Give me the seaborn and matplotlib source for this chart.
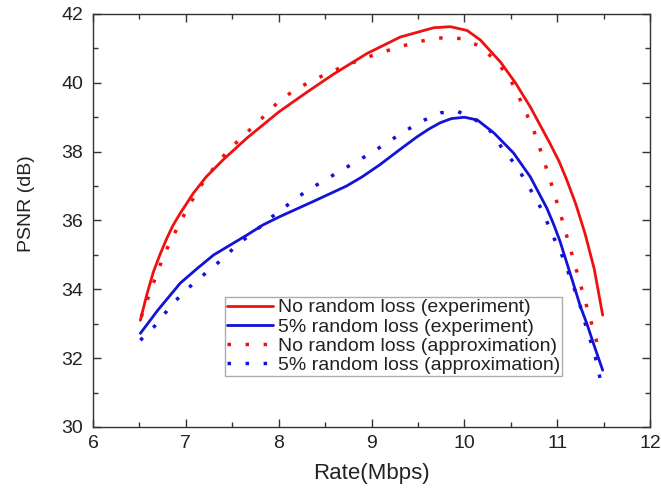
"""
PSNR vs rate: experiment vs approximation, with and without random loss.
"""

import numpy as np
import pandas as pd
import matplotlib
matplotlib.use("Agg")
import matplotlib.pyplot as plt
from matplotlib.ticker import MultipleLocator
import seaborn as sns

# --- Datos ---
rate_red_exp = [6.51, 6.58, 6.65, 6.72, 6.79, 6.86, 6.94, 7.08, 7.22, 7.40, 7.66, 8.0,
                8.3, 8.59, 8.95, 9.31, 9.67, 9.85, 10.03, 10.17, 10.39, 10.55, 10.71,
                10.92, 11.02, 11.1, 11.2, 11.3, 11.4, 11.49]
psnr_red_exp = [33.1, 33.85, 34.5, 35.0, 35.45, 35.85, 36.21, 36.79, 37.27, 37.76, 38.4,
                39.15, 39.72, 40.25, 40.85, 41.33, 41.6, 41.63, 41.52, 41.25, 40.6, 40.0,
                39.3, 38.25, 37.72, 37.2, 36.48, 35.62, 34.58, 33.25]

rate_blue_exp = [6.51, 6.70, 6.94, 7.12, 7.30, 7.48, 7.66, 7.83, 8.01, 8.37, 8.73, 8.9,
                 9.09, 9.3, 9.49, 9.62, 9.74, 9.86, 10.0, 10.14, 10.32, 10.53, 10.71,
                 10.89, 10.96, 11.03, 11.1, 11.17, 11.25, 11.32, 11.4, 11.49]
psnr_blue_exp = [32.72, 33.40, 34.18, 34.6, 35.0, 35.29, 35.58, 35.87, 36.11, 36.55, 37.0,
                 37.27, 37.62, 38.05, 38.43, 38.66, 38.84, 38.96, 39.0, 38.92, 38.54, 37.96,
                 37.27, 36.35, 35.9, 35.4, 34.8, 34.2, 33.5, 33.0, 32.35, 31.65]

rate_red_apx = [6.52, 6.62, 6.71, 6.79, 6.87, 6.96, 7.06, 7.18, 7.31, 7.46, 7.82, 7.99,
                8.17, 8.36, 8.54, 8.71, 8.9, 9.08, 9.26, 9.44, 9.62, 9.8, 9.98, 10.17,
                10.33, 10.48, 10.57, 10.67, 10.75, 10.85, 10.95, 11.05, 11.15, 11.25,
                11.35, 11.45]
psnr_red_apx = [33.2, 33.95, 34.62, 35.14, 35.58, 36.06, 36.55, 37.08, 37.56, 38.05, 38.97,
                39.43, 39.79, 40.06, 40.29, 40.49, 40.69, 40.86, 41.01, 41.15, 41.26, 41.32,
                41.28, 41.06, 40.66, 40.18, 39.69, 39.1, 38.6, 37.8, 36.95, 36.05, 35.1,
                34.15, 33.2, 32.25]

rate_blue_apx = [6.51, 6.69, 6.84, 7.01, 7.2, 7.39, 7.56, 7.75, 7.93, 8.12, 8.29, 8.47,
                 8.65, 8.83, 9.02, 9.2, 9.38, 9.57, 9.75, 9.93, 10.12, 10.28, 10.42, 10.57,
                 10.67, 10.78, 10.87, 10.94, 11.03, 11.1, 11.16, 11.23, 11.28, 11.34, 11.4,
                 11.44, 11.48]
psnr_blue_apx = [32.52, 33.0, 33.53, 34.0, 34.44, 34.87, 35.31, 35.70, 36.11, 36.5, 36.84,
                 37.13, 37.42, 37.7, 38.0, 38.32, 38.63, 38.92, 39.13, 39.17, 38.92, 38.6,
                 38.05, 37.56, 37.08, 36.6, 36.1, 35.62, 35.14, 34.65, 34.18, 33.7, 33.2,
                 32.67, 32.15, 31.7, 31.17]

RED = "#f01010"
BLUE = "#1212d8"
DOTS = (0, (1, 4.2))

series = [
    ("No random loss (experiment)", rate_red_exp, psnr_red_exp, RED, "-"),
    ("5% random loss (experiment)", rate_blue_exp, psnr_blue_exp, BLUE, "-"),
    ("No random loss (approximation)", rate_red_apx, psnr_red_apx, RED, DOTS),
    ("5% random loss (approximation)", rate_blue_apx, psnr_blue_apx, BLUE, DOTS),
]

sns.set_style("ticks")
plt.rcParams["font.family"] = ["Liberation Sans", "DejaVu Sans"]

fig = plt.figure(figsize=(6.61, 4.99), dpi=100)
ax = fig.add_axes([0.1407, 0.1443, 0.8427, 0.8277])

for label, x, y, color, ls in series:
    df = pd.DataFrame({"rate": x, "psnr": y})
    lw = 2.0 if ls == "-" else 2.5
    sns.lineplot(data=df, x="rate", y="psnr", ax=ax, color=color, lw=lw,
                 linestyle=ls, label=label, sort=False, estimator=None)

ax.set_xlim(6, 12)
ax.set_ylim(30, 42)
ax.xaxis.set_major_locator(MultipleLocator(1))
ax.xaxis.set_minor_locator(MultipleLocator(0.5))
ax.yaxis.set_major_locator(MultipleLocator(2))
ax.yaxis.set_minor_locator(MultipleLocator(1))
ax.tick_params(which="both", direction="in", top=True, right=True, labelsize=14,
               width=1.0, color="#333333", labelcolor="#222222")
ax.tick_params(which="major", length=6)
ax.tick_params(which="minor", length=3.5)
ax.tick_params(axis="y", pad=7)
ax.tick_params(axis="x", pad=6)
for s in ax.spines.values():
    s.set_color("#333333")
    s.set_linewidth(1.0)

ax.set_xlabel("Rate(Mbps)", fontsize=16, labelpad=8, color="#222222")
ax.set_ylabel("PSNR (dB)", fontsize=14, labelpad=12, color="#222222")
ax.yaxis.set_label_coords(-0.104, 0.54)

leg = ax.legend(loc="upper left", bbox_to_anchor=(0.237, 0.314), fontsize=14,
                frameon=True, fancybox=False, edgecolor="#999999",
                handlelength=2.37, handletextpad=0.26, labelspacing=0.08,
                borderpad=0.08, borderaxespad=0.0)
leg.get_frame().set_linewidth(1.0)
for t in leg.get_texts():
    t.set_color("#222222")

fig.savefig("out.png", dpi=100)
plt.close(fig)
